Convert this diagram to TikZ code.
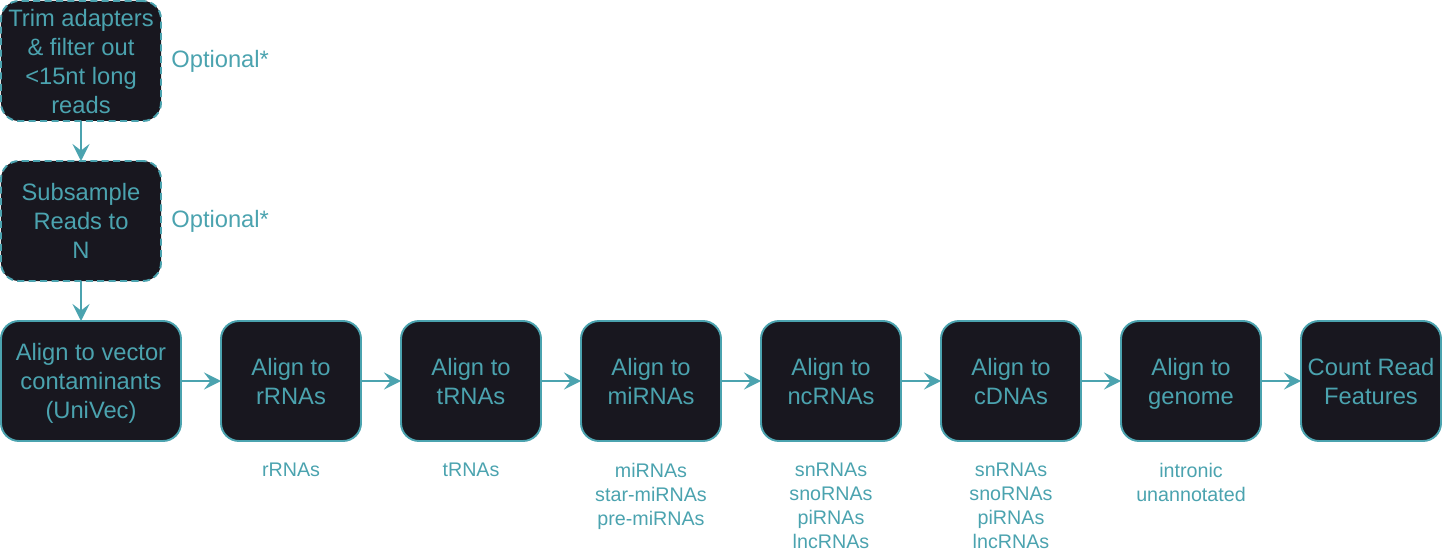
\documentclass[tikz,border=0pt]{standalone}
\usepackage{fontspec}
\setmainfont{Liberation Sans}
\usepackage{xcolor}
\usetikzlibrary{arrows.meta,positioning}
\definecolor{pipeteal}{HTML}{4BA3AF}
\definecolor{pipedark}{HTML}{18171F}
\tikzset{
  stage/.style={
    draw=pipeteal,
    fill=pipedark,
    text=pipeteal,
    line width=1.1pt,
    rounded corners=0.36cm,
    minimum width=2.8cm,
    minimum height=2.4cm,
    align=center,
    outer sep=0pt,
    inner sep=1pt,
    text depth=0pt,
    font=\fontsize{13.5}{16.5}\selectfont
  },
  optstage/.style={
    stage,
    dash pattern=on 4pt off 2.5pt,
    minimum width=3.2cm
  },
  optnote/.style={
    text=pipeteal,
    anchor=west,
    inner sep=0pt,
    font=\fontsize{13.5}{16.5}\selectfont
  },
  yield/.style={
    text=pipeteal,
    align=center,
    inner sep=0pt,
    font=\fontsize{11.2}{13.6}\selectfont
  },
  pass/.style={-{Stealth[length=3.4mm,width=3.4mm,inset=1.3mm]},draw=pipeteal,line width=1.1pt}
}

\begin{document}
\begin{tikzpicture}[node distance=0.8cm]
  \useasboundingbox (0,0) rectangle (28.84,-11.12);
  % optional preprocessing
  \node[optstage] (trim) at (1.62,-1.22) {Trim adapters\\ \& filter out\\ <15nt long\\ reads};
  \node[optstage,below=of trim] (subsample) {Subsample\\ Reads to\\ N};
  \node[optnote,right=0.2cm of trim] (trimopt) {Optional*};
  \node[optnote,right=0.2cm of subsample] (subopt) {Optional*};
  % alignment chain
  \node[stage,minimum width=3.6cm,below=of subsample.south west,anchor=north west] (univec) {Align to vector\\ contaminants\\ (UniVec)};
  \node[stage,right=of univec] (rrna) {Align to\\ rRNAs};
  \node[stage,right=of rrna] (trna) {Align to\\ tRNAs};
  \node[stage,right=of trna] (mirna) {Align to\\ miRNAs};
  \node[stage,right=of mirna] (ncrna) {Align to\\ ncRNAs};
  \node[stage,right=of ncrna] (cdna) {Align to\\ cDNAs};
  \node[stage,right=of cdna] (genome) {Align to\\ genome};
  \node[stage,right=of genome] (count) {Count Read\\ Features};
  % what each step picks up
  \node[yield,below=0.44cm of rrna] (rrnaout) {rRNAs};
  \node[yield,below=0.44cm of trna] (trnaout) {tRNAs};
  \node[yield,below=0.44cm of mirna] (mirnaout) {miRNAs\\ star-miRNAs\\ pre-miRNAs};
  \node[yield,below=0.44cm of ncrna] (ncrnaout) {snRNAs\\ snoRNAs\\ piRNAs\\ lncRNAs};
  \node[yield,below=0.44cm of cdna] (cdnaout) {snRNAs\\ snoRNAs\\ piRNAs\\ lncRNAs};
  \node[yield,below=0.44cm of genome] (genomeout) {intronic\\ unannotated};
  \draw[pass] (trim) -- (subsample);
  \draw[pass] (subsample.south) -- (subsample.south |- univec.north);
  \draw[pass] (univec) -- (rrna);
  \draw[pass] (rrna) -- (trna);
  \draw[pass] (trna) -- (mirna);
  \draw[pass] (mirna) -- (ncrna);
  \draw[pass] (ncrna) -- (cdna);
  \draw[pass] (cdna) -- (genome);
  \draw[pass] (genome) -- (count);
\end{tikzpicture}
\end{document}
